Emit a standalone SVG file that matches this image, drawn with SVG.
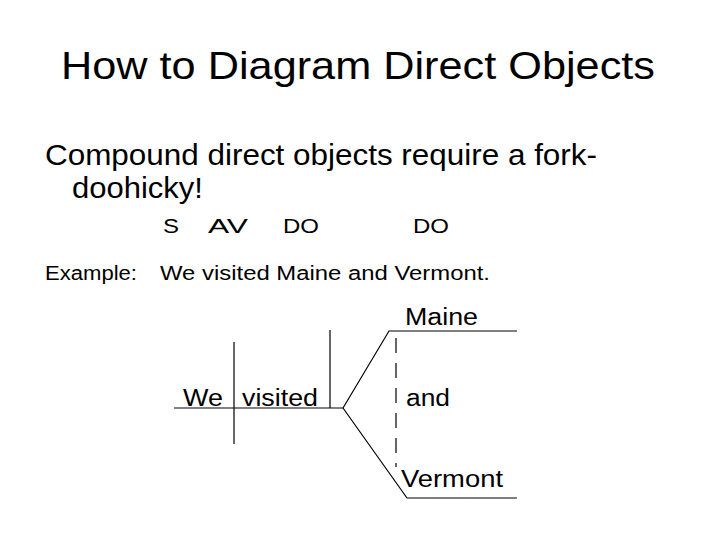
<svg xmlns="http://www.w3.org/2000/svg" width="720" height="540" viewBox="0 0 720 540">
<style>
text{font-family:"Liberation Sans",Arial,sans-serif;fill:#000}
.ln{stroke:#000;stroke-width:1.2;fill:none}
.t1{font-size:39px}
.t2{font-size:30px}
.t3{font-size:20px}
.t4{font-size:23px}
</style>
<rect width="720" height="540" fill="#fff"/>
<text class="t1" x="61" y="79" textLength="594" lengthAdjust="spacingAndGlyphs">How to Diagram Direct Objects</text>
<text class="t2" x="45" y="165" textLength="552" lengthAdjust="spacingAndGlyphs">Compound direct objects require a fork-</text>
<text class="t2" x="72" y="198" textLength="131" lengthAdjust="spacingAndGlyphs">doohicky!</text>
<g id="labels">
<text class="t3" x="163" y="233" textLength="16" lengthAdjust="spacingAndGlyphs">S</text>
<text class="t3" x="208" y="233" textLength="40" lengthAdjust="spacingAndGlyphs">AV</text>
<text class="t3" x="283" y="233" textLength="36" lengthAdjust="spacingAndGlyphs">DO</text>
<text class="t3" x="413" y="233" textLength="36" lengthAdjust="spacingAndGlyphs">DO</text>
</g>
<text class="t3" y="280"><tspan x="45" textLength="92" lengthAdjust="spacingAndGlyphs">Example:</tspan><tspan x="160" textLength="330" lengthAdjust="spacingAndGlyphs">We visited Maine and Vermont.</tspan></text>
<g id="connectors">
<line class="ln" x1="174" y1="408" x2="343" y2="408"/>
<line class="ln" x1="234" y1="342" x2="234" y2="444"/>
<line class="ln" x1="330" y1="330" x2="330" y2="408"/>
<polyline class="ln" points="343,408 389,331 517,331"/>
<polyline class="ln" points="343,408 407,498 517,498"/>
<line class="ln" x1="396" y1="338" x2="396" y2="467" stroke-dasharray="15 10"/>
</g>
<g id="we"><text class="t4" x="183" y="406" textLength="40" lengthAdjust="spacingAndGlyphs">We</text></g>
<g id="visited"><text class="t4" x="242" y="406" textLength="76" lengthAdjust="spacingAndGlyphs">visited</text></g>
<g id="maine"><text class="t4" x="405" y="325" textLength="73" lengthAdjust="spacingAndGlyphs">Maine</text></g>
<g id="and"><text class="t4" x="406" y="406" textLength="44" lengthAdjust="spacingAndGlyphs">and</text></g>
<g id="vermont"><text class="t4" x="401" y="487" textLength="102" lengthAdjust="spacingAndGlyphs">Vermont</text></g>
</svg>
